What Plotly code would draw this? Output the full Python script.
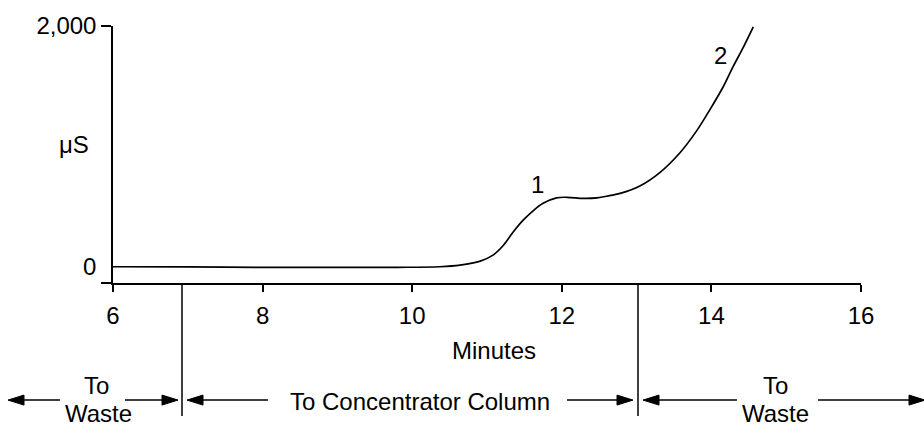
import plotly.graph_objects as go

# ---- data ----
minutes = [6.0, 7.0, 8.0, 9.0, 9.8, 10.37, 10.64, 10.91, 11.08, 11.22, 11.35, 11.49,
           11.62, 11.75, 11.93, 12.07, 12.29, 12.47, 12.64, 12.78, 13.05, 13.31, 13.58,
           13.80, 13.98, 14.16, 14.29, 14.43, 14.56]
conductivity = [3, 1, -2, -3, -2, 3, 16, 49, 99, 181, 291, 393,
                469, 529, 574, 579, 570, 574, 593, 611, 675, 784, 949,
                1128, 1306, 1498, 1663, 1827, 1992]
x_ticks = [6, 8, 10, 12, 14, 16]
y_ticks = [0, 2000]
y_tick_text = ["0", "2,000"]
peak_labels = ["1", "2"]
peak_label_x = [11.67, 14.12]
peak_label_y = [683, 1757]

FONT = "Liberation Sans, Arial, Helvetica, sans-serif"
FS = 24

# plot geometry (pixels)
W, H = 924, 428
L, R, T, B = 113, 861, 24, 283


def px(xp):
    return (xp - L) / (R - L)


def py(yp):
    return (B - yp) / (B - T)


fig = go.Figure()
fig.add_trace(go.Scatter(x=minutes, y=conductivity, mode="lines",
                         line=dict(color="black", width=1.7, shape="spline", smoothing=1.0),
                         hoverinfo="skip", showlegend=False))

annotations = []
for t, xv, yv in zip(peak_labels, peak_label_x, peak_label_y):
    annotations.append(dict(x=xv, y=yv, xref="x", yref="y", text=t, showarrow=False,
                            font=dict(size=FS, color="black", family=FONT)))


def txt(s, xp, yp):
    annotations.append(dict(x=px(xp), y=py(yp), xref="paper", yref="paper", text=s,
                            showarrow=False, xanchor="center", yanchor="middle",
                            font=dict(size=FS, color="black", family=FONT)))


txt("μS", 74, 143)
txt("Minutes", 494, 351)
txt("To", 96, 386)
txt("Waste", 98, 415)
txt("To Concentrator Column", 420, 402)
txt("To", 775, 386)
txt("Waste", 775, 415)

shapes = []
# valve switching separators
for xs in [182, 638]:
    shapes.append(dict(type="line", xref="paper", yref="paper", x0=px(xs), x1=px(xs),
                       y0=py(283), y1=py(417), line=dict(color="black", width=1.5)))

AY = 401
arrows = [(8, 60), (178, 125), (187, 268), (633, 567), (643, 737), (925, 818)]
for tip, tail in arrows:
    d = 1 if tail > tip else -1
    hl = 16
    shapes.append(dict(type="line", xref="paper", yref="paper", x0=px(tail), x1=px(tip + d * hl * 0.6),
                       y0=py(AY), y1=py(AY), line=dict(color="black", width=1.5)))
    shapes.append(dict(type="path", xref="paper", yref="paper", xsizemode="pixel", ysizemode="pixel",
                       xanchor=px(tip), yanchor=py(AY),
                       path=f"M0,0 L{d*hl},5 L{d*hl},-5 Z",
                       fillcolor="black", line=dict(color="black", width=1)))

fig.update_layout(
    width=W, height=H,
    margin=dict(l=L, r=W - R, t=T, b=H - B, pad=0),
    paper_bgcolor="white", plot_bgcolor="white",
    font=dict(family=FONT, size=FS, color="black"),
    xaxis=dict(range=[6, 16], tickvals=x_ticks, ticks="outside", ticklen=7, tickwidth=1.5,
               tickcolor="black", showline=True, linecolor="black", linewidth=1.5,
               showgrid=False, zeroline=False, ticklabelstandoff=3,
               tickfont=dict(size=FS, family=FONT, color="black")),
    yaxis=dict(range=[-132, 2000], tickvals=y_ticks, ticktext=y_tick_text, ticks="",
               showline=True, linecolor="black", linewidth=1.5, showgrid=False, zeroline=False,
               ticklabelstandoff=10,
               minor=dict(tickmode="array", tickvals=[-132, 2000], ticks="outside", ticklen=10,
                          tickwidth=1.5, tickcolor="black", showgrid=False),
               tickfont=dict(size=FS, family=FONT, color="black")),
    annotations=annotations,
    shapes=shapes,
)

fig.write_html("out.html")
